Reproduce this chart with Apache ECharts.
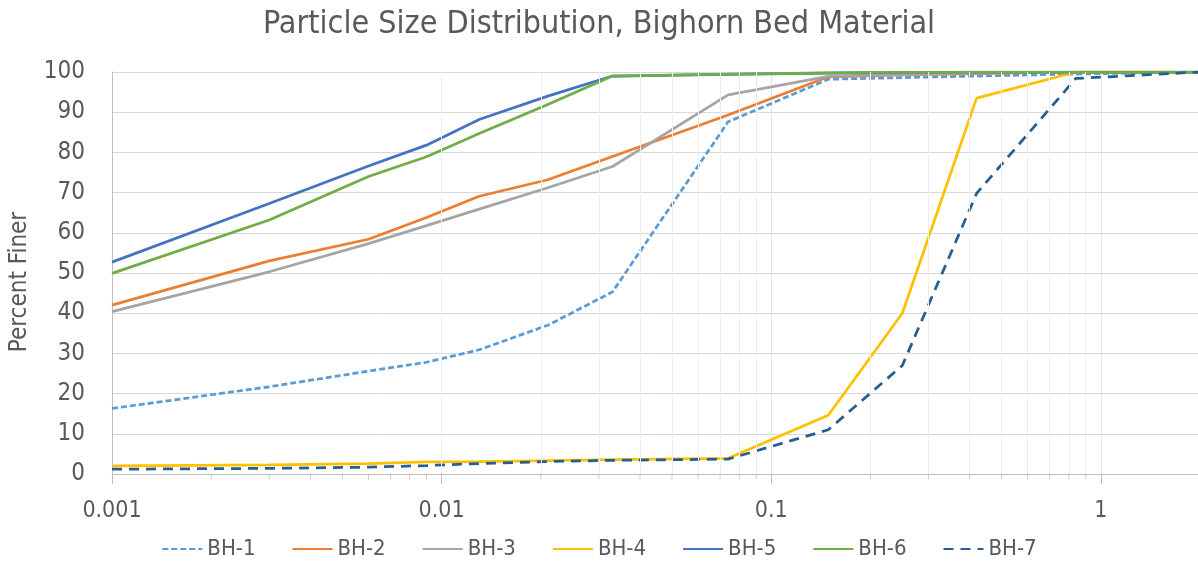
<!DOCTYPE html>
<html>
<head>
<meta charset="utf-8">
<script src="https://cdn.jsdelivr.net/npm/echarts@6/dist/echarts.min.js"></script>
<style>
html,body{margin:0;padding:0;background:#fff;}
#chart{width:1198px;height:577px;}
</style>
</head>
<body>
<div id="chart"></div>
<script>
// Particle sizes (mm) shared by all samples
const sizes = [0.001, 0.003, 0.006, 0.009, 0.013, 0.021, 0.033, 0.074, 0.149, 0.25, 0.42, 0.84, 2.0];
// Percent finer per sample
const bh1 = [16.3, 21.7, 25.6, 27.8, 30.9, 37.0, 45.3, 87.6, 98.2, 98.6, 99.0, 99.5, 100];
const bh2 = [42.0, 53.0, 58.4, 63.8, 69.1, 73.2, 79.0, 89.3, 98.8, 99.3, 99.6, 100, 100];
const bh3 = [40.4, 50.3, 57.3, 61.8, 65.9, 71.2, 76.5, 94.3, 98.9, 99.4, 99.7, 100, 100];
const bh4 = [2.0, 2.3, 2.6, 3.0, 3.1, 3.3, 3.6, 3.9, 14.6, 40.0, 93.5, 100, 100];
const bh5 = [52.7, 67.3, 76.6, 81.8, 88.2, 94.0, 99.0, 99.4, 99.7, 99.9, 100, 100, 100];
const bh6 = [49.9, 63.2, 74.0, 78.9, 84.7, 91.9, 99.0, 99.5, 99.8, 100, 100, 100, 100];
const bh7 = [1.2, 1.4, 1.7, 2.1, 2.6, 3.1, 3.4, 3.7, 11.0, 27.0, 69.8, 98.4, 100];
const seriesNames = ['BH-1', 'BH-2', 'BH-3', 'BH-4', 'BH-5', 'BH-6', 'BH-7'];
// Minor (log) tick positions on the x axis
const minorTicks = [0.002, 0.003, 0.004, 0.005, 0.006, 0.007, 0.008, 0.009,
                    0.02, 0.03, 0.04, 0.05, 0.06, 0.07, 0.08, 0.09,
                    0.2, 0.3, 0.4, 0.5, 0.6, 0.7, 0.8, 0.9];
const yTicks = {min: 0, max: 100, interval: 10};

const FONT = "'Liberation Sans Narrow','DejaVu Sans Condensed','Roboto Condensed','Liberation Sans',sans-serif";
const TXT = '#595959';
const colors = ['#5B9BD5', '#ED7D31', '#A5A5A5', '#FFC000', '#4472C4', '#70AD47', '#255E91'];
const dashes = [[6, 3], 'solid', 'solid', 'solid', 'solid', 'solid', [10, 7]];
const allY = [bh1, bh2, bh3, bh4, bh5, bh6, bh7];

function pairs(ys) { return sizes.map((x, i) => [x, ys[i]]); }

const series = [
  {
    name: 'minorGrid', type: 'line', data: [], z: 1, silent: true,
    markLine: {
      silent: true, symbol: ['none', 'none'], animation: false,
      label: {show: false},
      lineStyle: {color: '#EDEDED', width: 1, type: 'solid'},
      data: minorTicks.map(v => ({xAxis: v}))
    }
  },
  {
    name: 'minorTick', type: 'scatter', clip: false, silent: true, z: 3,
    symbol: 'rect', symbolSize: [1, 5], symbolOffset: [0, 3],
    itemStyle: {color: '#BFBFBF'},
    data: minorTicks.map(v => [v, 0])
  }
];
seriesNames.forEach((n, i) => {
  series.push({
    name: n, type: 'line', data: pairs(allY[i]),
    symbol: 'circle', showSymbol: false, z: 2,
    lineStyle: {color: colors[i], width: 2.75, type: dashes[i]},
    itemStyle: {color: 'rgba(0,0,0,0)', borderWidth: 0},
    emphasis: {disabled: true}
  });
});

const chart = echarts.init(document.getElementById('chart'), null, {renderer: 'canvas'});
chart.setOption({
  animation: false,
  backgroundColor: '#fff',
  title: {
    text: 'Particle Size Distribution, Bighorn Bed Material',
    left: 'center', top: 4,
    textStyle: {fontFamily: FONT, fontSize: 32, fontWeight: 'normal', color: TXT}
  },
  legend: {
    data: seriesNames, bottom: 12, left: 'center',
    itemWidth: 40, itemHeight: 14, itemGap: 36,
    itemStyle: {color: 'rgba(0,0,0,0)', borderWidth: 0},
    textStyle: {fontFamily: FONT, fontSize: 22, color: TXT}
  },
  grid: {left: 112, right: -2, top: 72, bottom: 103, containLabel: false, outerBoundsMode: 'none'},
  xAxis: {
    type: 'log', logBase: 10, min: 0.001, max: 2,
    axisLine: {show: true, onZero: false, lineStyle: {color: '#BFBFBF', width: 1}},
    axisTick: {show: true, inside: false, length: 10, lineStyle: {color: '#BFBFBF'}},
    axisLabel: {
      fontFamily: FONT, fontSize: 23, color: TXT, margin: 26,
      formatter: function (v) {
        const l = Math.log10(v);
        return Math.abs(l - Math.round(l)) < 1e-6 ? String(+v.toPrecision(6)) : '';
      }
    },
    splitLine: {show: true, lineStyle: {color: '#E6E6E6', width: 1}}
  },
  yAxis: {
    type: 'value', min: yTicks.min, max: yTicks.max, interval: yTicks.interval,
    name: 'Percent Finer', nameLocation: 'middle', nameGap: 80, nameRotate: 90,
    nameTextStyle: {fontFamily: FONT, fontSize: 24, color: TXT, padding: [0, 18, 0, 0]},
    axisLine: {show: true, lineStyle: {color: '#BFBFBF'}},
    axisTick: {show: false},
    axisLabel: {fontFamily: FONT, fontSize: 24, color: TXT, margin: 27},
    splitLine: {show: true, lineStyle: {color: '#D9D9D9', width: 1}}
  },
  series: series
});
</script>
</body>
</html>
